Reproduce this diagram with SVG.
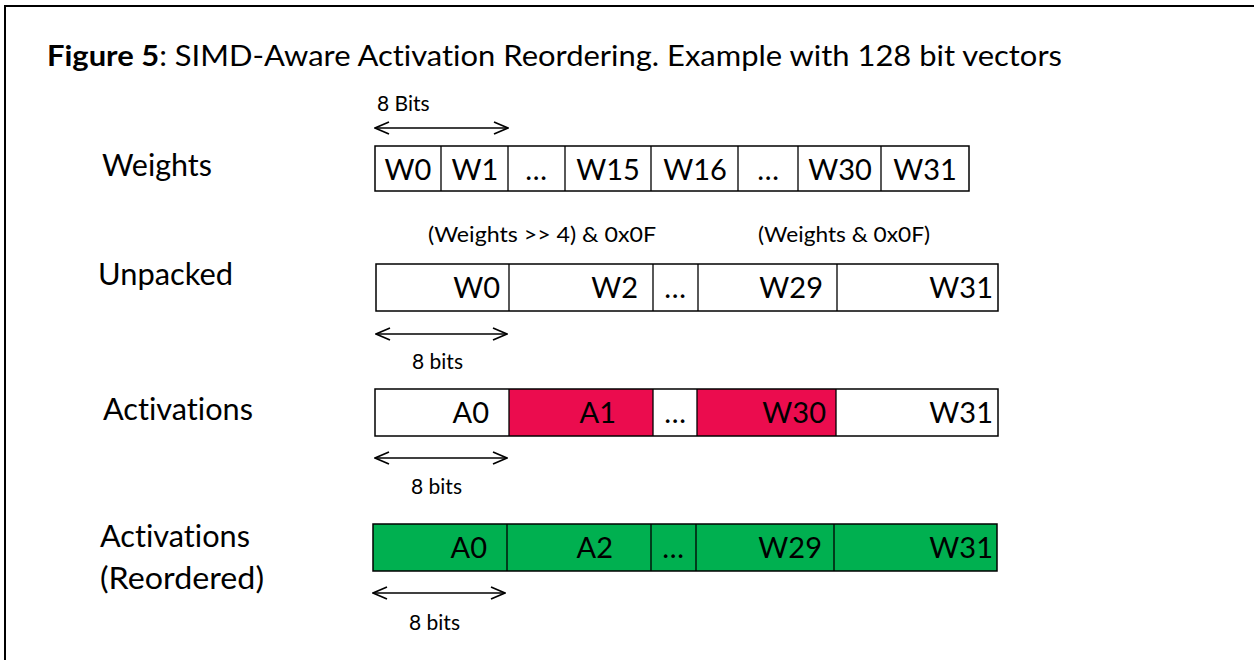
<svg xmlns="http://www.w3.org/2000/svg" width="1254" height="660" viewBox="0 0 1254 660">
<defs>
<marker id="ah" markerWidth="16" markerHeight="14" refX="15" refY="7" orient="auto-start-reverse" markerUnits="userSpaceOnUse">
<path d="M1,1 L15,7 L1,13" fill="none" stroke="#000" stroke-width="1.7"/>
</marker>
</defs>
<style>
text{font-family:Lato,"Open Sans","Liberation Sans",sans-serif;fill:#000;font-variant-ligatures:none}
.title{font-size:29px}
.lbl{font-size:31px}
.cell{font-size:29px}
.small{font-size:21px}
.box{stroke:#000;stroke-width:1.5}
.div{stroke:#000;stroke-width:1.3}
.arr{stroke:#000;stroke-width:1.6;fill:none;marker-start:url(#ah);marker-end:url(#ah)}
.e{text-anchor:end}
.m{text-anchor:middle}
</style>
<rect width="1254" height="660" fill="#fff"/>
<path d="M5,660 L5,6 L1254,6" fill="none" stroke="#000" stroke-width="2"/>
<text class="title" x="47" y="66" textLength="1015" lengthAdjust="spacingAndGlyphs"><tspan font-weight="bold">Figure 5</tspan>: SIMD-Aware Activation Reordering. Example with 128 bit vectors</text>

<g id="labels">
<text class="lbl" x="102" y="176" textLength="110" lengthAdjust="spacingAndGlyphs">Weights</text>
<text class="lbl" x="98" y="285" textLength="135" lengthAdjust="spacingAndGlyphs">Unpacked</text>
<text class="lbl" x="103" y="420" textLength="150" lengthAdjust="spacingAndGlyphs">Activations</text>
<text class="lbl" x="100" y="547" textLength="150" lengthAdjust="spacingAndGlyphs">Activations</text>
<text class="lbl" x="100" y="589" textLength="164" lengthAdjust="spacingAndGlyphs">(Reordered)</text>
</g>

<g id="weights">
<rect class="box" x="375" y="146" width="594" height="45" fill="#fff"/>
<path class="div" d="M441,146V191M508,146V191M565,146V191M651,146V191M738,146V191M798,146V191M881,146V191"/>
<text class="cell m" x="408" y="180">W0</text>
<text class="cell m" x="475" y="180">W1</text>
<text class="cell m" x="536" y="180">…</text>
<text class="cell m" x="608" y="180">W15</text>
<text class="cell m" x="695" y="180">W16</text>
<text class="cell m" x="768" y="180">…</text>
<text class="cell m" x="840" y="180">W30</text>
<text class="cell m" x="925" y="180">W31</text>
<text class="small" x="377" y="111">8 Bits</text>
</g>

<g id="unpacked">
<rect class="box" x="376" y="264" width="622" height="47" fill="#fff"/>
<path class="div" d="M509,264V311M653,264V311M698,264V311M837,264V311"/>
<text class="cell e" x="500" y="298">W0</text>
<text class="cell e" x="638" y="298">W2</text>
<text class="cell m" x="675" y="298">…</text>
<text class="cell e" x="823" y="298">W29</text>
<text class="cell e" x="993" y="298">W31</text>
<text class="small" x="428" y="242" textLength="228" lengthAdjust="spacingAndGlyphs">(Weights &gt;&gt; 4) &amp; 0x0F</text>
<text class="small" x="758" y="242" textLength="172" lengthAdjust="spacingAndGlyphs">(Weights &amp; 0x0F)</text>
<text class="small" x="412" y="369">8 bits</text>
</g>

<g id="activations">
<rect x="375" y="389" width="623" height="47" fill="#fff"/>
<rect x="509" y="389" width="144" height="47" fill="#EB0C4E"/>
<rect x="697" y="389" width="139" height="47" fill="#EB0C4E"/>
<rect class="box" x="375" y="389" width="623" height="47" fill="none"/>
<path class="div" d="M509,389V436M653,389V436M697,389V436M836,389V436"/>
<text class="cell e" x="489" y="423">A0</text>
<text class="cell e" x="616" y="423">A1</text>
<text class="cell m" x="675" y="423">…</text>
<text class="cell e" x="826" y="423">W30</text>
<text class="cell e" x="993" y="423">W31</text>
<text class="small" x="411" y="494">8 bits</text>
</g>

<g id="reordered">
<rect class="box" x="373" y="524" width="624" height="47" fill="#00B050"/>
<path class="div" d="M507,524V571M651,524V571M696,524V571M834,524V571"/>
<text class="cell e" x="487" y="558">A0</text>
<text class="cell e" x="613" y="558">A2</text>
<text class="cell m" x="673" y="558">…</text>
<text class="cell e" x="822" y="558">W29</text>
<text class="cell e" x="993" y="558">W31</text>
<text class="small" x="409" y="630">8 bits</text>
</g>

<g id="connectors">
<line class="arr" x1="375" y1="128" x2="508" y2="128"/>
<line class="arr" x1="376" y1="334" x2="507" y2="334"/>
<line class="arr" x1="375" y1="458" x2="507" y2="458"/>
<line class="arr" x1="373" y1="593" x2="505" y2="593"/>
</g>
</svg>
